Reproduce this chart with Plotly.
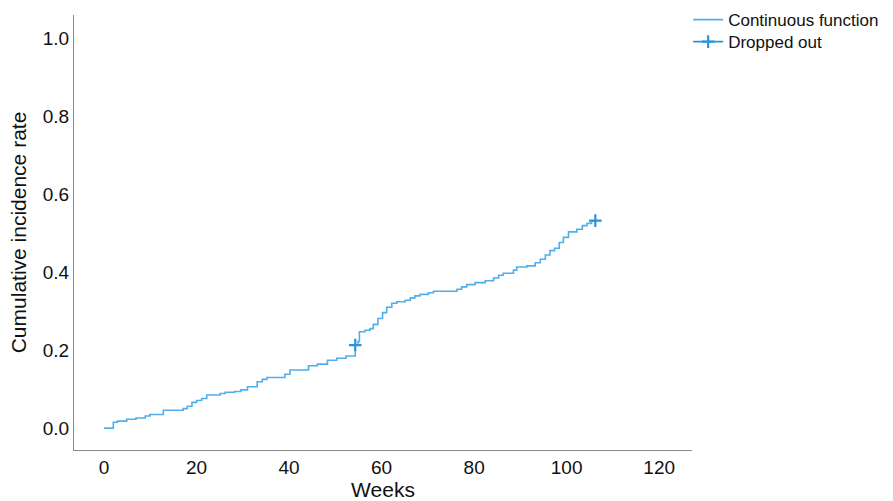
import plotly.graph_objects as go

# Event times (weeks) and cumulative incidence after each step
weeks = [0, 2.0, 2.9, 4.9, 6.9, 8.9, 9.9, 12.8, 17.1, 18.0, 19.0, 20.0, 21.1, 22.2,
         25.1, 26.2, 28.2, 29.6, 31.0, 33.1, 34.2, 35.2, 39.1, 40.2, 44.2, 46.1,
         48.3, 50.3, 52.3, 54.3, 54.9, 55.2, 56.4, 57.5, 58.2, 59.2, 60.2, 61.1,
         62.2, 63.3, 65.1, 66.2, 67.2, 68.3, 70.1, 71.2, 76.3, 77.3, 78.4, 80.2,
         82.4, 84.2, 85.3, 86.3, 88.5, 89.2, 91.4, 93.2, 94.3, 95.4, 96.4, 97.4,
         98.4, 99.3, 100.4, 102.2, 103.4, 104.4, 105.4, 106.2]
incidence = [0.0, 0.015, 0.018, 0.023, 0.026, 0.031, 0.035, 0.046, 0.050, 0.056,
             0.066, 0.071, 0.076, 0.085, 0.089, 0.092, 0.094, 0.098, 0.106, 0.119,
             0.125, 0.130, 0.138, 0.149, 0.160, 0.164, 0.174, 0.179, 0.185, 0.213,
             0.222, 0.247, 0.251, 0.255, 0.266, 0.281, 0.296, 0.310, 0.320, 0.324,
             0.328, 0.334, 0.339, 0.343, 0.347, 0.351, 0.356, 0.362, 0.368, 0.373,
             0.378, 0.385, 0.392, 0.397, 0.405, 0.413, 0.416, 0.424, 0.433, 0.444,
             0.455, 0.461, 0.476, 0.489, 0.503, 0.510, 0.519, 0.525, 0.531, 0.532]

# Censored (dropped out) observations
censor_weeks = [54.3, 106.2]
censor_values = [0.213, 0.532]

x_ticks = [0, 20, 40, 60, 80, 100, 120]
y_ticks = [0.0, 0.2, 0.4, 0.6, 0.8, 1.0]
y_tick_labels = ["0.0", "0.2", "0.4", "0.6", "0.8", "1.0"]

FONT = "Liberation Sans, Arial, sans-serif"
LINE_COLOR = "#52aeea"
MARK_COLOR = "#2b93de"

fig = go.Figure()
fig.add_trace(go.Scatter(
    x=weeks, y=incidence, mode="lines", line=dict(shape="hv", color=LINE_COLOR, width=1.6),
    name="Continuous function", hoverinfo="x+y", legend="legend"))

cx, cy = [], []
for a, b in zip(censor_weeks, censor_values):
    cx += [a, None]
    cy += [b, None]
fig.add_trace(go.Scatter(
    x=cx, y=cy, mode="lines+markers", connectgaps=False,
    line=dict(color=MARK_COLOR, width=1.6),
    marker=dict(symbol="cross-thin-open", size=9, line=dict(color=MARK_COLOR, width=2.2)),
    name="Dropped out", legend="legend2"))

legend_style = dict(xanchor="left", yanchor="middle", xref="container", yref="container",
                    font=dict(family=FONT, size=17, color="#111111"),
                    bgcolor="rgba(0,0,0,0)", itemwidth=30, indentation=-4)

fig.update_layout(
    width=893, height=501,
    margin=dict(l=74, r=201, t=15, b=51),
    paper_bgcolor="white", plot_bgcolor="white",
    font=dict(family=FONT, size=19, color="#111111"),
    showlegend=True,
    legend=dict(x=0.7751, y=0.960, **legend_style),
    legend2=dict(x=0.7751, y=0.916, **legend_style),
)
fig.update_xaxes(
    range=[-6.5, 127.1], tickvals=x_ticks, ticktext=[str(t) for t in x_ticks],
    showgrid=False, zeroline=False, showline=True, linecolor="#8a8a8a", linewidth=1,
    ticks="", tickfont=dict(size=19, family=FONT), automargin=False,
    title=dict(text="Weeks", font=dict(size=21, family=FONT), standoff=10),
)
fig.update_yaxes(
    range=[-0.056, 1.059], tickvals=y_ticks, ticktext=y_tick_labels,
    showgrid=False, zeroline=False, showline=True, linecolor="#8a8a8a", linewidth=1,
    ticks="", tickfont=dict(size=19, family=FONT), automargin=False,
    title=dict(text="Cumulative incidence rate", font=dict(size=21, family=FONT), standoff=10),
)

fig.write_html("out.html", config={"displayModeBar": False},
               post_script="document.body.style.margin='0';document.body.style.overflow='hidden';")
